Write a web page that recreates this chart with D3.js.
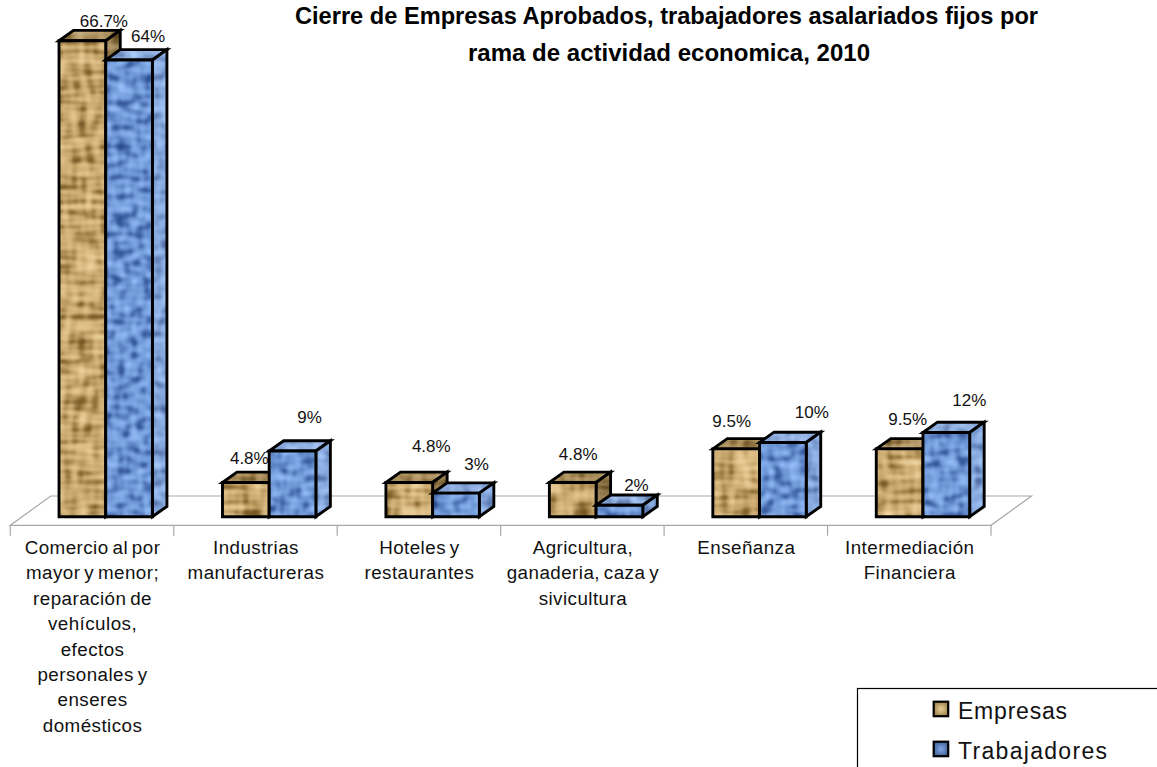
<!DOCTYPE html>
<html><head><meta charset="utf-8">
<script src="https://cdn.jsdelivr.net/npm/d3@7/dist/d3.min.js"></script>
<style>html,body{margin:0;padding:0;background:#fff;overflow:hidden}svg{display:block;font-family:"Liberation Sans",Arial,sans-serif}</style>
</head><body><svg id="c" width="1157" height="767"></svg>
<script>
// ---- data ----
const titleLines = ["Cierre de Empresas Aprobados, trabajadores asalariados fijos por","rama de actividad economica, 2010"];
const categories = ["Comercio al por mayor","Industrias manufactureras","Hoteles y restaurantes","Agricultura","Enseñanza","Intermediación Financiera"];
const categoryLabels = [
  ["Comercio al por","mayor y menor;","reparación de","vehículos,","efectos","personales y","enseres","domésticos"],
  ["Industrias","manufactureras"],
  ["Hoteles y","restaurantes"],
  ["Agricultura,","ganaderia, caza y","sivicultura"],
  ["Enseñanza"],
  ["Intermediación","Financiera"]];
const seriesNames = ["Empresas","Trabajadores"];
const empresas = [66.7,4.8,4.8,4.8,9.5,9.5];
const trabajadores = [64,9.2,3.3,1.6,10.4,11.8];
const empresasLabels = ["66.7%","4.8%","4.8%","4.8%","9.5%","9.5%"];
const trabajadoresLabels = ["64%","9%","3%","2%","10%","12%"];

// ---- layout ----
const baseY = 516.7, frontY = 525.3, backY = 496, depthFloor = 40.5;
const depth = {x:14.5, y:-10.3}, barW = 46.7;
const x = d3.scaleBand().domain(categories).range([10.3,991]).paddingInner(0).paddingOuter(0);
const y = d3.scaleLinear().domain([0,66.7]).range([baseY,40.7]);
// label nudges, relative to the bar's top centre, as the original placed them
const empOff = [[21.5,-14],[3.5,-18],[22,-30],[5.5,-22],[-4.5,-22],[8,-24]];
const traOff = [[19,-18],[17,-28],[20.5,-23],[17,-14],[29,-24],[23,-26]];
const labelPx = {fs:17};

const svg = d3.select("#c");
const defs = svg.append("defs");
function texture(id, fx1, fy1, fx2, fy2, seed, r, g, b){
  const f = defs.append("filter").attr("id",id).attr("x","0").attr("y","0").attr("width","1").attr("height","1")
    .attr("color-interpolation-filters","sRGB");
  f.append("feTurbulence").attr("type","fractalNoise").attr("baseFrequency",fx1+" "+fy1).attr("numOctaves",1).attr("seed",seed).attr("result","a");
  f.append("feTurbulence").attr("type","fractalNoise").attr("baseFrequency",fx2+" "+fy2).attr("numOctaves",1).attr("seed",seed+7).attr("result","b");
  f.append("feComposite").attr("in","a").attr("in2","b").attr("operator","arithmetic").attr("k1",0).attr("k2",.62).attr("k3",.48).attr("k4",-0.05).attr("result","m");
  f.append("feColorMatrix").attr("in","m").attr("type","matrix").attr("values","1 0 0 0 0 1 0 0 0 0 1 0 0 0 0 0 0 0 0 1").attr("result","g");
  const t = f.append("feComponentTransfer").attr("in","g");
  t.append("feFuncR").attr("type","table").attr("tableValues",r);
  t.append("feFuncG").attr("type","table").attr("tableValues",g);
  t.append("feFuncB").attr("type","table").attr("tableValues",b);
  f.append("feGaussianBlur").attr("stdDeviation",.9).attr("result","c");
  f.append("feComposite").attr("in","c").attr("in2","SourceAlpha").attr("operator","in");
}
texture("texTan",.03,.2,.14,.04,3,
  ".40 .40 .54 .78 .88 .95 .97 .97",".28 .28 .42 .65 .76 .85 .88 .88",".10 .10 .20 .42 .54 .65 .68 .68");
texture("texBlue",.07,.16,.16,.07,11,
  ".13 .13 .24 .42 .52 .62 .66 .66",".27 .27 .38 .58 .68 .77 .80 .80",".53 .53 .64 .83 .92 .98 1 1");
[["swTan","#e6d09c","#a88a50"],["swBlue","#86a8e6","#44689f"]].forEach(g=>{
  const rg = defs.append("radialGradient").attr("id",g[0]);
  rg.append("stop").attr("offset","0%").attr("stop-color",g[1]);
  rg.append("stop").attr("offset","100%").attr("stop-color",g[2]);
});

const series = [
  {name:seriesNames[0],values:empresas,labels:empresasLabels,off:empOff,dx:0,tex:"texTan",top:["#000",.14],side:["#000",.22]},
  {name:seriesNames[1],values:trabajadores,labels:trabajadoresLabels,off:traOff,dx:barW,tex:"texBlue",top:["#fff",.22],side:["#fff",.16]}
];
const swatchFill = ["url(#swTan)","url(#swBlue)"];

// floor
const l = x.range()[0], r = x.range()[1];
const floor = svg.append("g").attr("stroke","#a8a8a8").attr("stroke-width",1.2).attr("fill","none");
floor.append("path").attr("d",`M${l},${frontY}L${l+depthFloor},${backY}L${r+depthFloor},${backY}L${r},${frontY}Z`);
const tickXs = categories.map(c=>x(c)).concat([r]);
floor.selectAll("line").data(tickXs).join("line").attr("x1",d=>d).attr("x2",d=>d).attr("y1",frontY).attr("y2",535.7);

// bars
const barX = (c,s)=> x(c)+x.bandwidth()/2+13.7-barW+s.dx;
const pts = a=>a.map(p=>p.join(",")).join(" ");
series.forEach(s=>{
  const g = svg.append("g");
  categories.forEach((c,i)=>{
    const x0=barX(c,s), x1=x0+barW, y0=y(s.values[i]), b=y(0), dx=depth.x, dy=depth.y;
    const front=[[x0,y0],[x1,y0],[x1,b],[x0,b]];
    const top=[[x0,y0],[x0+dx,y0+dy],[x1+dx,y0+dy],[x1,y0]];
    const side=[[x1,y0],[x1+dx,y0+dy],[x1+dx,b+dy],[x1,b]];
    [[top,s.top],[side,s.side],[front,null]].forEach(([p,sh])=>{
      g.append("polygon").attr("points",pts(p)).attr("fill","#000").attr("filter",`url(#${s.tex})`);
      if(sh) g.append("polygon").attr("points",pts(p)).attr("fill",sh[0]).attr("fill-opacity",sh[1]);
      g.append("polygon").attr("points",pts(p)).attr("fill","none").attr("stroke","#000").attr("stroke-width",2.9).attr("stroke-linejoin","miter");
    });
  });
});

// value labels
series.forEach(s=>{
  svg.append("g").selectAll("text").data(categories).join("text")
    .attr("x",(c,i)=>barX(c,s)+barW/2+s.off[i][0])
    .attr("y",(c,i)=>y(s.values[i])+s.off[i][1])
    .attr("text-anchor","middle").attr("font-size",labelPx.fs).attr("fill","#111")
    .text((c,i)=>s.labels[i]);
});

// category labels
categories.forEach((c,i)=>{
  svg.append("text").attr("text-anchor","middle").attr("font-size",18.8).attr("letter-spacing",.45).attr("word-spacing",-1.8).attr("fill","#111")
    .selectAll("tspan").data(categoryLabels[i]).join("tspan")
    .attr("x",x(c)+x.bandwidth()/2+0.5).attr("y",(d,j)=>554+j*25.4).text(d=>d);
});

// title
[[743,666.5,23.5],[402,669,60.5]].forEach((m,i)=>{
  svg.append("text").attr("x",m[1]).attr("y",m[2]).attr("text-anchor","middle").attr("font-size",24.5).attr("font-weight","bold")
    .attr("textLength",m[0]).attr("lengthAdjust","spacingAndGlyphs").text(titleLines[i]);
});

// legend
svg.append("rect").attr("x",857.5).attr("y",688.5).attr("width",320).attr("height",100).attr("fill","#fff").attr("stroke","#000").attr("stroke-width",1.2);
const legendW = [109,149];
seriesNames.forEach((n,i)=>{
  const yy = 701.7+i*40;
  svg.append("rect").attr("x",933.7).attr("y",yy).attr("width",14.5).attr("height",14.5).attr("fill",swatchFill[i]).attr("stroke","#000").attr("stroke-width",2.2);
  svg.append("text").attr("x",958).attr("y",719+i*40).attr("font-size",23).attr("fill","#111")
    .attr("textLength",legendW[i]).attr("lengthAdjust","spacing").text(n);
});
</script></body></html>
